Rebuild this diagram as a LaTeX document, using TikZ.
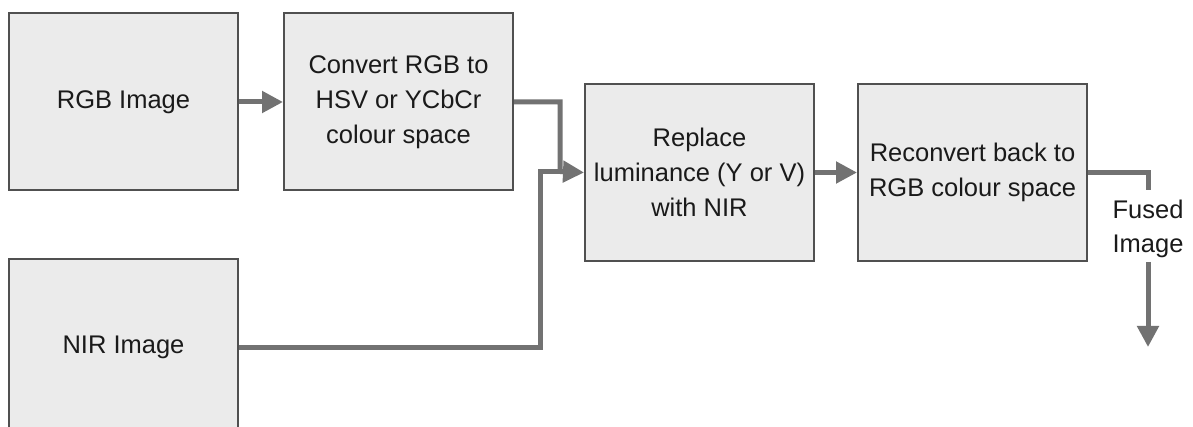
\documentclass[tikz,border=0pt]{standalone}
\usepackage{fontspec}
\setmainfont{Liberation Sans}
\usetikzlibrary{arrows.meta}
\definecolor{boxfill}{HTML}{EBEBEB}
\definecolor{boxline}{HTML}{505050}
\definecolor{conn}{HTML}{727272}
\definecolor{txt}{HTML}{1A1A1A}
\begin{document}
\begin{tikzpicture}[x=1pt,y=-1pt,
  blk/.style={draw=boxline,fill=boxfill,line width=2pt,rectangle,anchor=north west,
    minimum width=229pt,minimum height=177pt,inner sep=0pt,align=center,
    text=txt,font=\fontsize{25.5}{35}\selectfont},
  lbl/.style={align=center,text=txt,inner sep=0pt,font=\fontsize{25.5}{34}\selectfont},
  wire/.style={draw=conn,line width=5pt},
  arr/.style={wire,-{Triangle[length=21pt,width=21pt]}}]
\useasboundingbox (0,0) rectangle (1193,427);
\begin{scope}
\clip (0,0) rectangle (1193,427);
\node[blk] (rgb) at (8,12.5) {RGB Image};
\node[blk] (conv) at (283,12.5) {Convert RGB to\\HSV or YCbCr\\colour space};
\node[blk] (rep) at (584,83) {Replace\\luminance (Y or V)\\with NIR};
\node[blk] (rec) at (857,83) {Reconvert back to\\RGB colour space};
\node[blk] (nir) at (8,258) {NIR Image};
\end{scope}
\node[lbl] (fused) at (1148,229) {Fused\\Image};
\coordinate (j1) at (560,171.5);
\coordinate (j2) at (540,171.5);
\coordinate (o1) at (1148,190);
\coordinate (o2) at (1148,347);
\draw[arr] (rgb.east) -- (conv.west);
\draw[wire] (nir.east) -| (j2) -- (j1);
\draw[arr] (conv.east) -| (j1) -- (rep.west);
\draw[arr] (rep.east) -- (rec.west);
\draw[wire] (rec.east) -| (o1);
\draw[arr] (fused.south |- 0,262) -- (o2);
\end{tikzpicture}
\end{document}
